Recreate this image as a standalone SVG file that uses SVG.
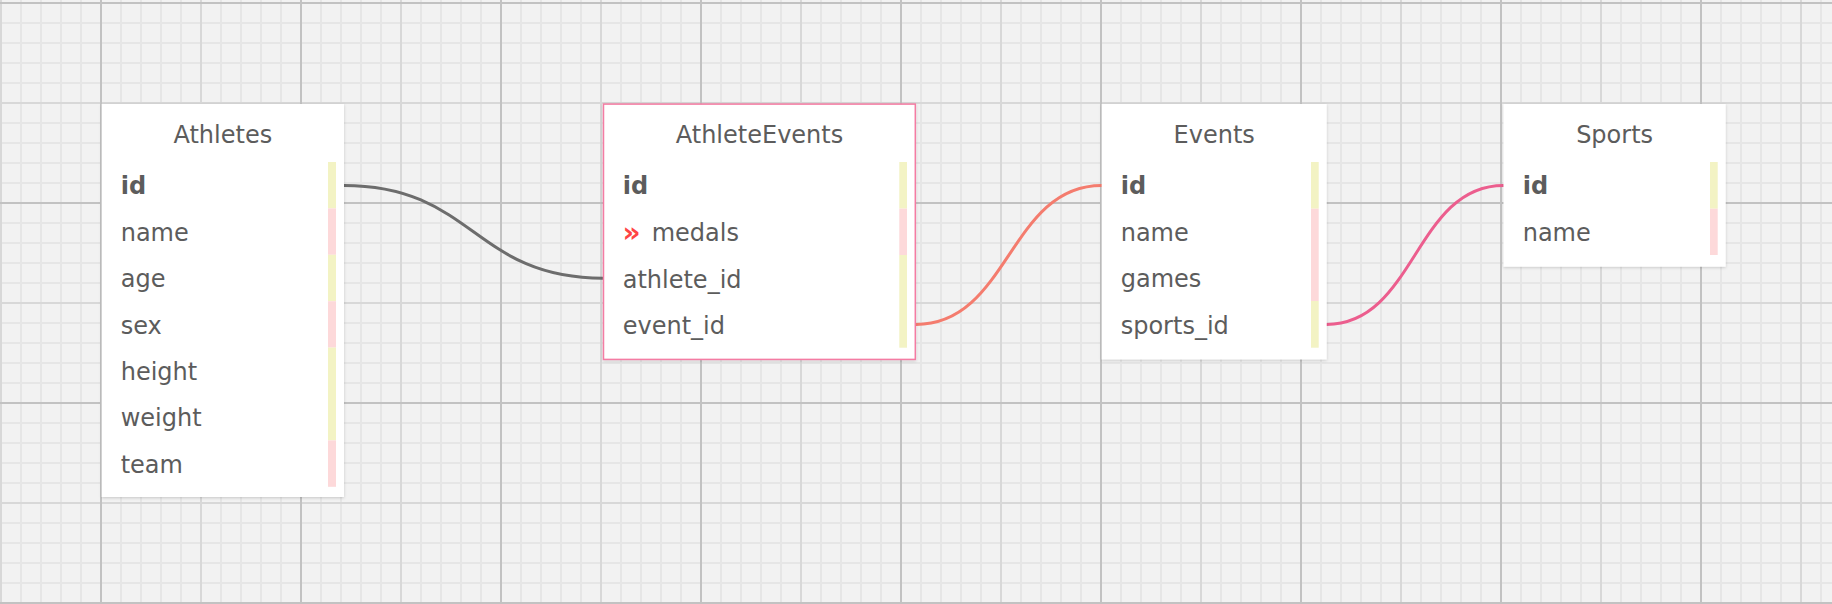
<svg xmlns="http://www.w3.org/2000/svg" width="1832" height="604" viewBox="0 0 1832 604">
<style>
.bg{fill:#f2f2f2}
.box{fill:#ffffff;filter:url(#sh)}
.sel{stroke:#f47ca3;stroke-width:1.5}
.title{font-family:"DejaVu Sans",Verdana,sans-serif;font-size:24px;fill:#5c5c5c;text-anchor:middle}
.f{font-family:"DejaVu Sans",Verdana,sans-serif;font-size:24px;fill:#5c5c5c}
.pk{font-weight:bold}
.y{fill:#f3f3c4}
.p{fill:#fdd9da}
.con{fill:none;stroke-width:3;stroke-linecap:round}
.icon{font-family:"DejaVu Sans",sans-serif;font-size:28px;font-weight:bold;fill:#ff4444}
</style>
<defs>
<pattern id="g20" width="20" height="20" x="-9" y="-7" patternUnits="userSpaceOnUse">
<path d="M10 0V20M0 10H20" stroke="#e6e6e6" stroke-width="2" fill="none"/>
</pattern>
<pattern id="g100" width="100" height="100" x="-49" y="-47" patternUnits="userSpaceOnUse">
<path d="M50 0V100M0 50H100" stroke="#d8d8d8" stroke-width="2" fill="none"/>
</pattern>
<pattern id="g200" width="200" height="200" x="1" y="-97" patternUnits="userSpaceOnUse">
<path d="M100 0V200M0 100H200" stroke="#c2c2c2" stroke-width="2" fill="none"/>
</pattern>
<filter id="sh" x="-10%" y="-10%" width="120%" height="120%">
<feDropShadow dx="0" dy="1" stdDeviation="1.5" flood-color="#000" flood-opacity="0.18"/>
</filter>
</defs>
<rect class="bg" x="0" y="0" width="1832" height="604"/>
<rect x="0" y="0" width="1832" height="604" fill="url(#g20)"/>
<rect x="0" y="0" width="1832" height="604" fill="url(#g100)"/>
<rect x="0" y="0" width="1832" height="604" fill="url(#g200)"/>

<g id="connectors">
<path class="con" stroke="#6d6d6d" d="M344,185.4 C473.5,185.4 473.5,278.2 603,278.2"/>
<path class="con" stroke="#f47c6e" d="M916,324.4 C1009,324.4 1009,185.4 1101.7,185.4"/>
<path class="con" stroke="#ec5e8e" d="M1326.7,324.4 C1415,324.4 1415,185.4 1503.5,185.4"/>
</g>

<g id="Athletes">
<rect class="box" x="101.7" y="104" width="242.3" height="393"/>
<text class="title" x="222.8" y="142.7">Athletes</text>
<rect class="y" x="328" y="162" width="8" height="46.4"/>
<rect class="p" x="328" y="208.4" width="8" height="46.4"/>
<rect class="y" x="328" y="254.8" width="8" height="46.4"/>
<rect class="p" x="328" y="301.2" width="8" height="46.4"/>
<rect class="y" x="328" y="347.6" width="8" height="92.8"/>
<rect class="p" x="328" y="440.4" width="8" height="46.4"/>
<text class="f pk" x="120.7" y="194.3">id</text>
<text class="f" x="120.7" y="240.7">name</text>
<text class="f" x="120.7" y="287.1">age</text>
<text class="f" x="120.7" y="333.5">sex</text>
<text class="f" x="120.7" y="379.9">height</text>
<text class="f" x="120.7" y="426.3">weight</text>
<text class="f" x="120.7" y="472.7">team</text>
</g>

<g id="AthleteEvents">
<rect class="box sel" x="603.5" y="104.1" width="311.8" height="255.3"/>
<text class="title" x="759.5" y="143">AthleteEvents</text>
<rect class="y" x="899.3" y="162" width="7.7" height="46.6"/>
<rect class="p" x="899.3" y="208.6" width="7.7" height="46.4"/>
<rect class="y" x="899.3" y="255" width="7.7" height="92.7"/>
<text class="f pk" x="622.7" y="194.3">id</text>
<text class="icon" x="622.5" y="241.5">»</text>
<text class="f" x="651.7" y="240.7">medals</text>
<text class="f" x="622.7" y="287.7">athlete_id</text>
<text class="f" x="622.7" y="334">event_id</text>
</g>

<g id="Events">
<rect class="box" x="1101.7" y="104" width="225" height="255.4"/>
<text class="title" x="1214.2" y="142.7">Events</text>
<rect class="y" x="1311" y="162" width="7.7" height="46.7"/>
<rect class="p" x="1311" y="208.7" width="7.7" height="92.3"/>
<rect class="y" x="1311" y="301" width="7.7" height="46.7"/>
<text class="f pk" x="1120.7" y="194.3">id</text>
<text class="f" x="1120.7" y="240.7">name</text>
<text class="f" x="1120.7" y="287.1">games</text>
<text class="f" x="1120.7" y="333.5">sports_id</text>
</g>

<g id="Sports">
<rect class="box" x="1503.5" y="104" width="222.2" height="162.7"/>
<text class="title" x="1614.6" y="142.7">Sports</text>
<rect class="y" x="1710" y="162" width="7.7" height="46.7"/>
<rect class="p" x="1710" y="208.7" width="7.7" height="46.3"/>
<text class="f pk" x="1522.7" y="194.3">id</text>
<text class="f" x="1522.7" y="240.7">name</text>
</g>
</svg>
